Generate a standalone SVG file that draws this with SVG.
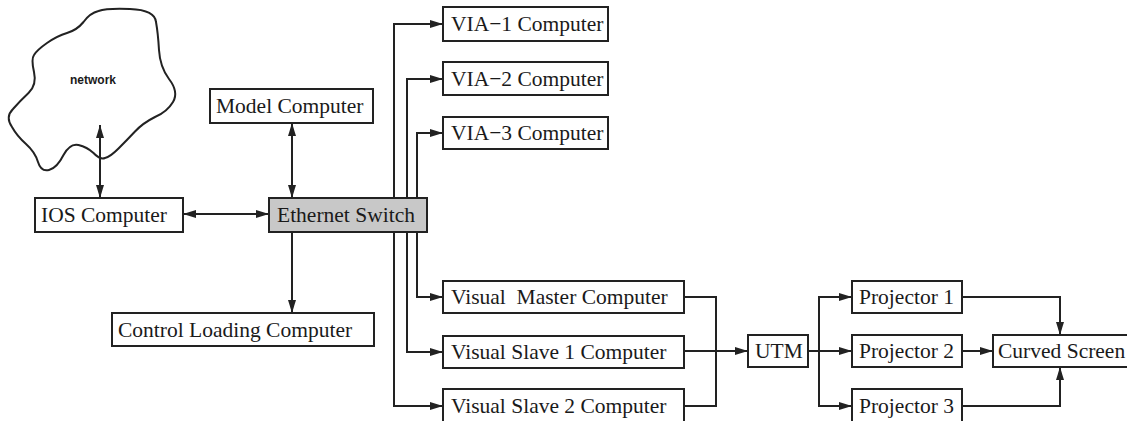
<svg xmlns="http://www.w3.org/2000/svg" width="1127" height="421" viewBox="0 0 1127 421">
  <style>
    .box { fill: #ffffff; stroke: #222222; stroke-width: 2; }
    .switch { fill: #c8c8c8; stroke: #222222; stroke-width: 2; }
    .lbl { font-family: "Liberation Serif", "Times New Roman", serif; font-size: 21.5px; fill: #1a1a1a; white-space: pre; }
    .wire { fill: none; stroke: #222222; stroke-width: 2; }
    .arr { marker-end: url(#head); }
    .both { marker-start: url(#head); marker-end: url(#head); }
  </style>
  <defs>
    <marker id="head" viewBox="0 0 13 8" refX="13" refY="4" markerWidth="13" markerHeight="8" markerUnits="userSpaceOnUse" orient="auto-start-reverse">
      <path d="M0,0 L13,4 L0,8 Z" fill="#222222"/>
    </marker>
  </defs>
  <rect width="1127" height="421" fill="#ffffff"/>

  <!-- connectors -->
  <g id="connectors">
    <!-- network to IOS -->
    <line class="wire both" x1="100" y1="125" x2="100" y2="198"/>
    <!-- Model / IOS / Control Loading to the switch -->
    <line class="wire both" x1="292" y1="123" x2="292" y2="198"/>
    <line class="wire both" x1="183" y1="214" x2="269" y2="214"/>
    <line class="wire arr" x1="292" y1="232" x2="292" y2="313"/>
    <!-- switch trunks to VIA and visual computers -->
    <path class="wire" d="M394,24 V406"/>
    <path class="wire" d="M407,79 V352"/>
    <path class="wire" d="M417,133 V297"/>
    <line class="wire arr" x1="393" y1="24" x2="443" y2="24"/>
    <line class="wire arr" x1="406" y1="79" x2="443" y2="79"/>
    <line class="wire arr" x1="416" y1="133" x2="443" y2="133"/>
    <line class="wire arr" x1="416" y1="297" x2="443" y2="297"/>
    <line class="wire arr" x1="406" y1="352" x2="443" y2="352"/>
    <line class="wire arr" x1="393" y1="406" x2="443" y2="406"/>
    <!-- visual computers into UTM -->
    <path class="wire" d="M684,297 H716 V406 H684"/>
    <line class="wire arr" x1="684" y1="351" x2="748" y2="351"/>
    <!-- UTM to projectors -->
    <path class="wire" d="M808,351 H819"/>
    <path class="wire" d="M819,297 V406"/>
    <line class="wire arr" x1="818" y1="297" x2="852" y2="297"/>
    <line class="wire arr" x1="808" y1="351" x2="852" y2="351"/>
    <line class="wire arr" x1="818" y1="406" x2="852" y2="406"/>
    <!-- projectors to the screen -->
    <path class="wire arr" d="M962,297 H1060 V335"/>
    <line class="wire arr" x1="962" y1="351" x2="993" y2="351"/>
    <path class="wire arr" d="M962,406 H1060 V367"/>
  </g>

  <g id="network">
    <path d="M130,9 Q155,10 156,22 Q158,33 159,50 Q160,67 169,79 Q179,92 173,102 Q167,112 155,117 Q143,123 135,131.5 Q127,140 118.5,148.5 Q110,157 105,158 Q100,160 93.5,153 Q87,147 78.5,145 Q70,143 63.5,155 Q57,168 49,170 Q41,172 38,162 Q35,152 26,144 Q17,136 12,127 Q5,117 13,109 Q20,101 28.5,93 Q37,85 34,72 Q31,59 34,55 Q37,50 47,43 Q57,36 67,33 Q77,30 83.5,22 Q90,13 98.5,11 Q107,8 130,9 Z" fill="none" stroke="#222222" stroke-width="2"/>
    <text x="93" y="84" text-anchor="middle" font-family="Liberation Sans, Arial, sans-serif" font-size="12" font-weight="bold" fill="#1a1a1a">network</text>
  </g>

  <g id="ios">
    <rect class="box" x="35" y="198" width="148" height="34"/>
    <text class="lbl" x="41" y="222">IOS Computer</text>
  </g>
  <g id="model">
    <rect class="box" x="210" y="89" width="163" height="34"/>
    <text class="lbl" x="216" y="113">Model Computer</text>
  </g>
  <g id="switch">
    <rect class="switch" x="269" y="198" width="158" height="34"/>
    <text class="lbl" x="277" y="222">Ethernet Switch</text>
  </g>
  <g id="control">
    <rect class="box" x="112" y="313" width="262" height="33"/>
    <text class="lbl" x="118" y="337">Control Loading Computer</text>
  </g>
  <g id="via1">
    <rect class="box" x="443" y="7" width="165" height="34"/>
    <text class="lbl" x="451" y="31">VIA−1 Computer</text>
  </g>
  <g id="via2">
    <rect class="box" x="443" y="62" width="165" height="33"/>
    <text class="lbl" x="451" y="86">VIA−2 Computer</text>
  </g>
  <g id="via3">
    <rect class="box" x="443" y="117" width="165" height="32"/>
    <text class="lbl" x="451" y="140">VIA−3 Computer</text>
  </g>
  <g id="master">
    <rect class="box" x="443" y="281" width="241" height="32"/>
    <text class="lbl" x="451" y="304">Visual  Master Computer</text>
  </g>
  <g id="slave1">
    <rect class="box" x="443" y="336" width="241" height="32"/>
    <text class="lbl" x="451" y="359">Visual Slave 1 Computer</text>
  </g>
  <g id="slave2">
    <rect class="box" x="443" y="389" width="241" height="34"/>
    <text class="lbl" x="451" y="413">Visual Slave 2 Computer</text>
  </g>
  <g id="utm">
    <rect class="box" x="748" y="335" width="60" height="32"/>
    <text class="lbl" x="755" y="358">UTM</text>
  </g>
  <g id="projector1">
    <rect class="box" x="852" y="281" width="110" height="32"/>
    <text class="lbl" x="859" y="304">Projector 1</text>
  </g>
  <g id="projector2">
    <rect class="box" x="852" y="335" width="110" height="32"/>
    <text class="lbl" x="859" y="358">Projector 2</text>
  </g>
  <g id="projector3">
    <rect class="box" x="852" y="389" width="110" height="34"/>
    <text class="lbl" x="859" y="413">Projector 3</text>
  </g>
  <g id="screen">
    <rect class="box" x="993" y="335" width="140" height="32"/>
    <text class="lbl" x="998" y="358">Curved Screen</text>
  </g>
</svg>
